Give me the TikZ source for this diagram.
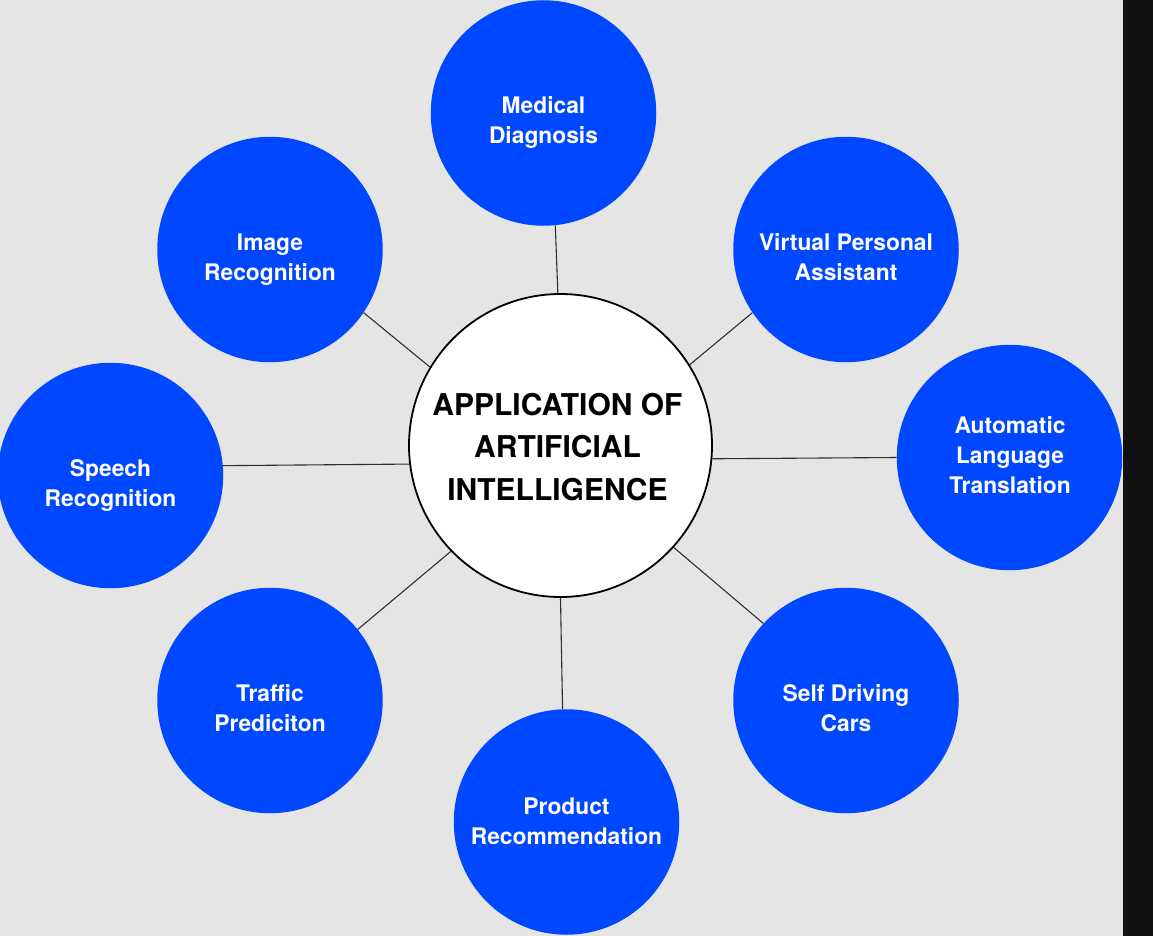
\documentclass[tikz,border=0pt]{standalone}
\usepackage{fontspec}
\setmainfont{TeX Gyre Heros}
\definecolor{aiblue}{RGB}{0,72,255}
\definecolor{bggrey}{RGB}{229,229,229}
\definecolor{darkbar}{RGB}{17,17,17}
\definecolor{linkcol}{RGB}{45,45,60}
\begin{document}
\begin{tikzpicture}[x=1pt,y=-1pt,
  blob/.style={circle, fill=aiblue, draw=none, minimum size=225.5pt, inner sep=0pt},
  blobtext/.style={text=white, font=\fontsize{22.8}{30}\selectfont\bfseries, align=center, text depth=0pt, inner sep=0pt},
  hub/.style={circle, fill=white, draw=black, line width=1.8pt, minimum size=303pt, inner sep=0pt},
  hubtext/.style={text=black, font=\fontsize{30}{42.5}\selectfont\bfseries, align=center, text depth=0pt, inner sep=0pt},
  link/.style={draw=linkcol, line width=1.1pt}]
\useasboundingbox (0,0) rectangle (1153,936);
\fill[bggrey] (0,0) rectangle (1123,936);
\fill[darkbar] (1123,0) rectangle (1153,936);

% hub
\node[hub] (hub) at (560.5,445.5) {};
\node[hubtext] (hubt) at (557.5,446.5) {APPLICATION OF\\ARTIFICIAL\\INTELLIGENCE};

% satellites
\node[blob] (med) at (543.5,113) {};
\node[blobtext] (medt) at (543.5,120.4) {Medical\\Diagnosis};

\node[blob] (img) at (270,249.5) {};
\node[blobtext] (imgt) at (270,256.9) {Image\\Recognition};

\node[blob] (vpa) at (846,249.5) {};
\node[blobtext] (vpat) at (846,256.9) {Virtual Personal\\Assistant};

\node[blob] (spe) at (110.5,475.5) {};
\node[blobtext] (spet) at (110.5,482.9) {Speech\\Recognition};

\node[blob] (alt) at (1009.5,457.5) {};
\node[blobtext] (altt) at (1010,454.9) {Automatic\\Language\\Translation};

\node[blob] (tra) at (270,700.5) {};
\node[blobtext] (trat) at (270,707.9) {Traffic\\Prediciton};

\node[blob] (sdc) at (846,700.5) {};
\node[blobtext] (sdct) at (846,707.9) {Self Driving\\Cars};

\node[blob] (pro) at (566.5,822) {};
\node[blobtext] (prot) at (566.5,821.4) {Product\\Recommendation};

% connectors
\draw[link] (hub.91.3) -- (med.276.9);
\draw[link] (hub.149.4) -- (img.326.1);
\draw[link] (hub.32.5) -- (vpa.214.7);
\draw[link] (hub.187.3) -- (spe.5.4);
\draw[link] (hub.355.7) -- (alt.180);
\draw[link] (hub.224.7) -- (tra.39.8);
\draw[link] (hub.318.9) -- (sdc.137);
\draw[link] (hub.270) -- (pro.92.9);
\end{tikzpicture}
\end{document}
